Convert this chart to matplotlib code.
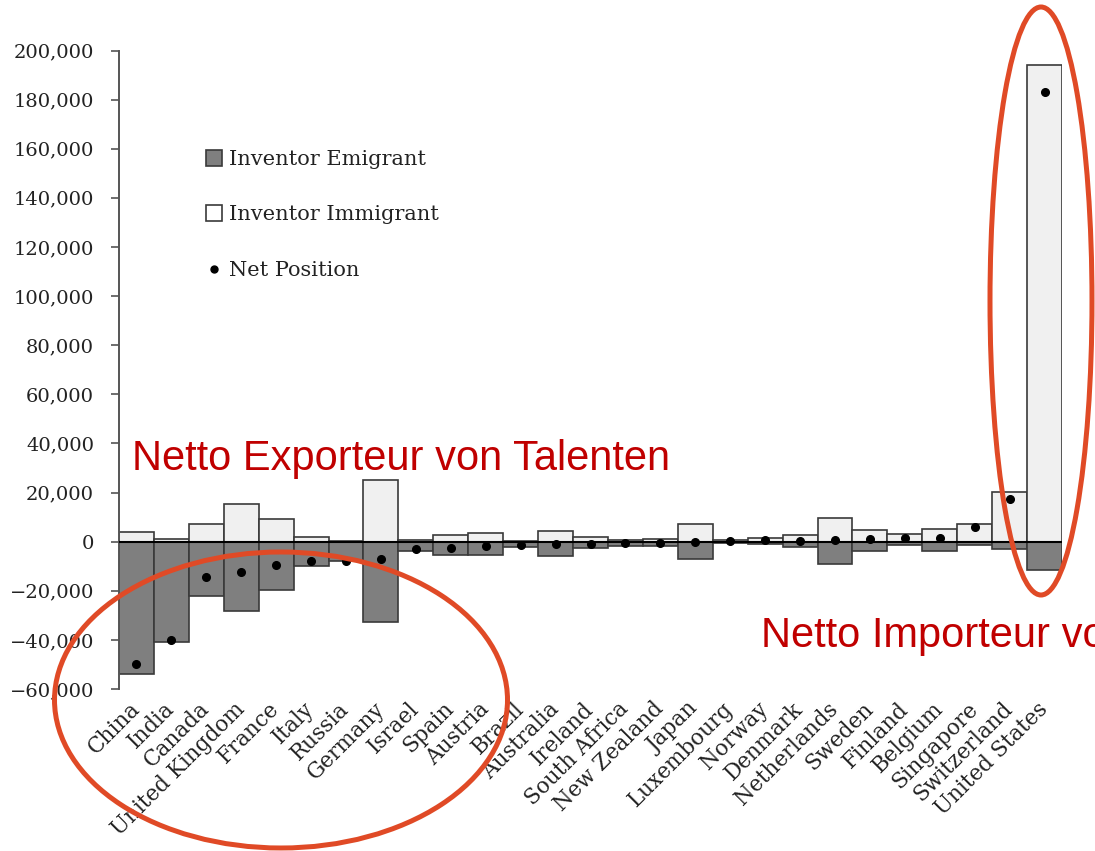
import matplotlib
matplotlib.use("Agg")
import matplotlib.pyplot as plt
from matplotlib.lines import Line2D
from matplotlib.patches import Ellipse
from matplotlib.ticker import FuncFormatter

countries = ["China", "India", "Canada", "United Kingdom", "France", "Italy", "Russia",
             "Germany", "Israel", "Spain", "Austria", "Brazil", "Australia", "Ireland",
             "South Africa", "New Zealand", "Japan", "Luxembourg", "Norway", "Denmark",
             "Netherlands", "Sweden", "Finland", "Belgium", "Singapore", "Switzerland",
             "United States"]
immigrant = [3900, 1000, 7200, 15400, 9300, 1900, 300, 25300, 700, 2900, 3400, 400, 4500,
             2000, 800, 1200, 7000, 700, 1500, 2700, 9600, 4900, 3000, 5300, 7000, 20400,
             194000]
emigrant = [54000, 41000, 22200, 28400, 19800, 10000, 8000, 32900, 3900, 5300, 5300, 2300,
            5800, 2700, 1700, 1900, 7200, 400, 900, 2300, 9000, 3900, 1400, 3700, 1200, 3100,
            11500]
net = [-49800, -40000, -14500, -12300, -9700, -8000, -7700, -7000, -3100, -2700, -1900,
       -1500, -900, -900, -600, -500, -200, 300, 600, 400, 600, 1000, 1600, 1600, 5800,
       17200, 183000]

W, H = 1095, 851
fig = plt.figure(figsize=(W / 100, H / 100), dpi=100)
ax = fig.add_axes([119 / W, 1 - 689 / H, (1062 - 119) / W, (689 - 50.5) / H])

serif = "DejaVu Serif"
dark_fill = "#7f7f7f"
light_fill = "#f0f0f0"
edge = "#3a3a3a"

x = list(range(len(countries)))
ax.bar(x, immigrant, width=1.0, color=light_fill, edgecolor=edge, linewidth=1.2, zorder=2)
ax.bar(x, [-v for v in emigrant], width=1.0, color=dark_fill, edgecolor=edge, linewidth=1.2, zorder=2)
ax.axhline(0, color="black", linewidth=1.5, zorder=3)
ax.plot(x, net, "o", color="black", markersize=5.5, zorder=4)

ax.set_xlim(-0.5, 26.5)
ax.set_ylim(-60000, 200000)
ax.set_yticks(range(-60000, 200001, 20000))
ax.yaxis.set_major_formatter(FuncFormatter(lambda v, p: "{:,}".format(int(v)).replace("-", "\u2212")))
ax.set_xticks(x)
ax.set_xticklabels(countries, rotation=45, ha="right", va="center", rotation_mode="anchor",
                   family=serif, fontsize=15.5, color="#222222")
for lab in ax.get_yticklabels():
    lab.set_family(serif)
    lab.set_fontsize(14)
    lab.set_color("#222222")
ax.tick_params(axis="x", length=0, pad=12)
ax.tick_params(axis="y", direction="out", length=6, width=1.2, color="#555555", pad=12)
for s in ["top", "right", "bottom"]:
    ax.spines[s].set_visible(False)
ax.spines["left"].set_color("#555555")
ax.spines["left"].set_linewidth(1.4)

handles = [
    Line2D([], [], marker="s", linestyle="none", markersize=12, markerfacecolor=dark_fill,
           markeredgecolor=edge, markeredgewidth=1.2),
    Line2D([], [], marker="s", linestyle="none", markersize=12, markerfacecolor="white",
           markeredgecolor=edge, markeredgewidth=1.2),
    Line2D([], [], marker="o", linestyle="none", markersize=5, color="black"),
]
fig.legend(handles, ["Inventor Emigrant", "Inventor Immigrant", "Net Position"],
           loc="upper left", bbox_to_anchor=(206 / W, 1 - 150 / H), frameon=False,
           prop={"family": serif, "size": 15}, labelspacing=1.75, handlelength=0.8,
           handletextpad=0.3, borderpad=0, borderaxespad=0, labelcolor="#222222")

red = "#c00000"
fig.text(132 / W, 1 - 470 / H, "Netto Exporteur von Talenten", color=red, fontsize=30,
         family="Liberation Sans", va="baseline", ha="left")
fig.text(761 / W, 1 - 647 / H, "Netto Importeur von Talenten", color=red, fontsize=30,
         family="Liberation Sans", va="baseline", ha="left")

orange = "#e04a26"
fig.add_artist(Ellipse((281 / W, 1 - 700 / H), 453 / W, 296 / H, fill=False,
                       edgecolor=orange, linewidth=3.6, transform=fig.transFigure, zorder=10))
fig.add_artist(Ellipse((1041 / W, 1 - 301 / H), 102 / W, 588 / H, fill=False,
                       edgecolor=orange, linewidth=3.6, transform=fig.transFigure, zorder=10))

fig.savefig("out.png", dpi=100)
